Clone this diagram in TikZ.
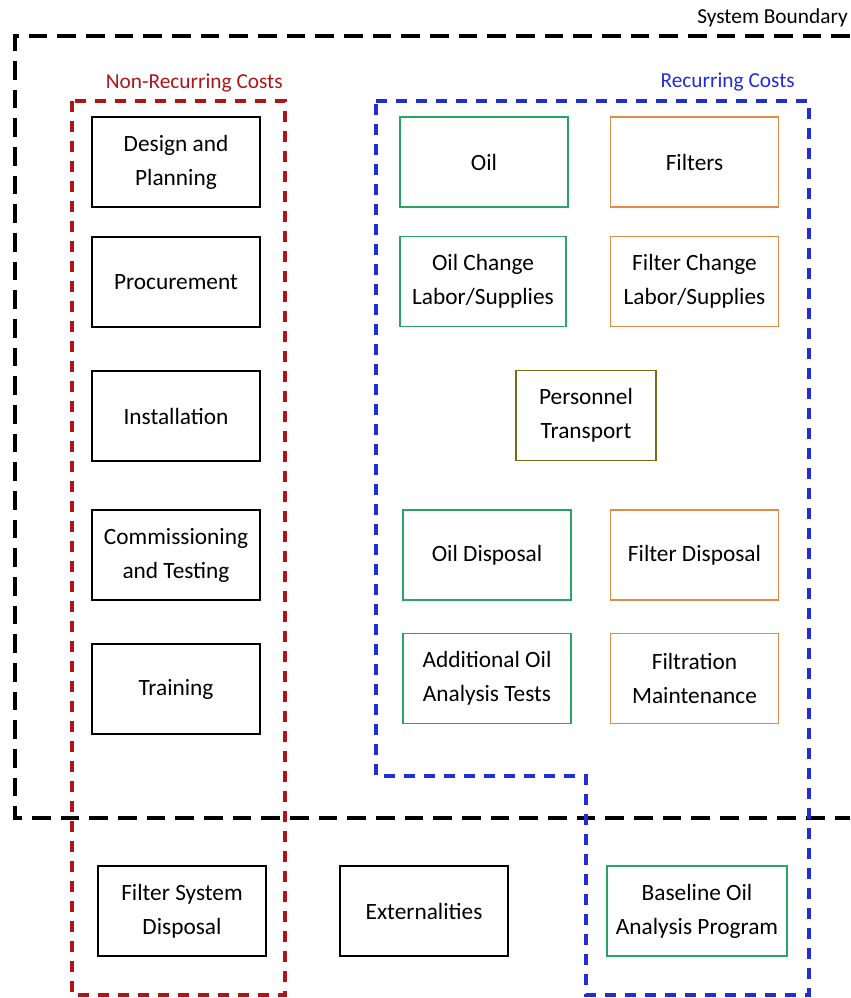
\documentclass[tikz,border=0pt]{standalone}
\usepackage{fontspec}
\setmainfont{Carlito}
\usetikzlibrary{positioning}
\definecolor{nrred}{RGB}{175,20,25}
\definecolor{rcblue}{RGB}{35,45,215}
\definecolor{oilgreen}{RGB}{40,165,100}
\definecolor{filtorange}{RGB}{225,140,70}
\definecolor{transolive}{RGB}{125,105,20}

\begin{document}
\begin{tikzpicture}[x=0.75pt, y=-0.75pt,
        box/.style={draw, line width=1.2pt, minimum width=126pt, minimum height=67.5pt,
            align=center, font=\fontsize{17.5}{25.5}\selectfont, inner sep=2pt},
        oilbox/.style={box, draw=oilgreen},
        filtbox/.style={box, draw=filtorange},
        sysline/.style={line width=3.3pt, dash pattern=on 14pt off 7.5pt},
        grpline/.style={line width=2.5pt, dash pattern=on 8.5pt off 6.5pt},
        grplabel/.style={anchor=east, font=\fontsize{16}{18}\selectfont, inner sep=0pt}]
    \useasboundingbox (0,0) rectangle (850,998);

    % boundaries
    \draw[sysline] (850,36) -- (15,36) -- (15,818) -- (850,818);
    \draw[grpline, nrred] (72,101) rectangle (285,995);
    \draw[grpline, rcblue] (376,101) -- (809,101) -- (809,995) -- (586,995)
        -- (586,776) -- (376,776) -- cycle;

    \node[grplabel] (syslbl) at (848,18) {System Boundary};
    \node[grplabel, nrred] (nrlbl) at (283,83) {Non-Recurring Costs};
    \node[grplabel, rcblue] (rclbl) at (795,82) {Recurring Costs};

    % non-recurring
    \node[box] (design) at (176,162) {Design and\\Planning};
    \node[box] (procure) at (176,282) {Procurement};
    \node[box] (install) at (176,416) {Installation};
    \node[box] (commission) at (176,555) {Commissioning\\and Testing};
    \node[box] (training) at (176,689) {Training};

    % recurring
    \node[oilbox] (oil) at (484,162) {Oil};
    \node[filtbox] (filters) at (694.5,162) {Filters};
    \node[oilbox, minimum width=124.5pt] (oilchange) at (483,281.5) {Oil Change\\Labor/Supplies};
    \node[filtbox] (filterchange) at (694.5,281.5) {Filter Change\\Labor/Supplies};
    \node[box, draw=transolive, minimum width=105pt] (personnel) at (586,415.5) {Personnel\\Transport};
    \node[oilbox] (oildisp) at (487,555) {Oil Disposal};
    \node[filtbox] (filterdisp) at (694.5,555) {Filter Disposal};
    \node[oilbox] (addoil) at (487,678.5) {Additional Oil\\Analysis Tests};
    \node[filtbox] (filtmaint) at (694.5,678.5) {Filtration\\Maintenance};

    % outside
    \node[box] (fsdisp) at (182,911) {Filter System\\Disposal};
    \node[box] (extern) at (424,911) {Externalities};
    \node[oilbox, minimum width=135pt] (baseline) at (697,911) {Baseline Oil\\Analysis Program};
\end{tikzpicture}
\end{document}
